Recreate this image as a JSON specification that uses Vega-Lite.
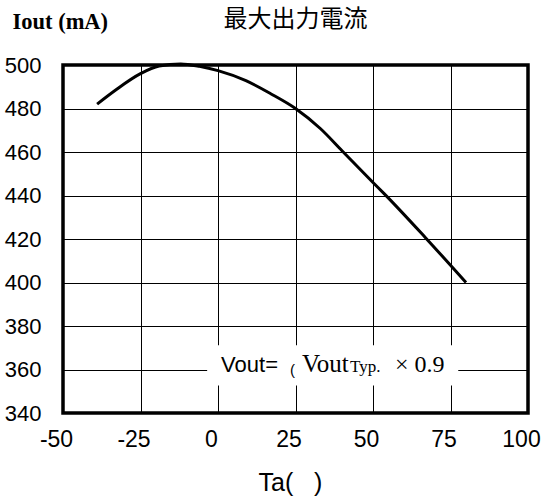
{
  "$schema": "https://vega.github.io/schema/vega-lite/v6.json",
  "width": 465,
  "height": 348,
  "autosize": {"type": "none"},
  "padding": {"left": 63, "top": 65, "right": 13, "bottom": 83},
  "background": "white",
  "config": {
    "view": {"stroke": "black", "strokeWidth": 3.5},
    "axis": {"grid": true, "gridColor": "#000000", "gridWidth": 1, "gridOpacity": 1, "domain": false, "ticks": false, "labelFont": "Liberation Sans", "labelColor": "black"}
  },
  "title": {"text": "最大出力電流", "font": "Noto Sans CJK JP", "fontSize": 24, "fontWeight": "normal", "color": "black", "offset": -22, "anchor": "middle"},
  "data": {"values": [
    {"ta": -39, "iout": 482},
    {"ta": -33, "iout": 488.5},
    {"ta": -25, "iout": 496},
    {"ta": -19, "iout": 499.5},
    {"ta": -12, "iout": 500.5},
    {"ta": -6, "iout": 499.4},
    {"ta": 0, "iout": 497.4},
    {"ta": 9, "iout": 492.8},
    {"ta": 17, "iout": 486.8},
    {"ta": 25, "iout": 480},
    {"ta": 33, "iout": 470.8},
    {"ta": 40, "iout": 460.6},
    {"ta": 50, "iout": 446},
    {"ta": 53.5, "iout": 441},
    {"ta": 67, "iout": 420.5},
    {"ta": 80, "iout": 400}
  ]},
  "layer": [
    {
      "mark": {"type": "line", "color": "black", "strokeWidth": 3, "interpolate": "monotone", "clip": false},
      "encoding": {
        "x": {"field": "ta", "type": "quantitative",
          "scale": {"domain": [-50, 100], "nice": false, "zero": false},
          "axis": {"values": [-50, -25, 0, 25, 50, 75, 100], "labelFontSize": 23, "labelPadding": 15, "labelOffset": -7, "labelFlush": false,
            "labelExpr": "replace(datum.label, '−', '-')",
            "title": "Ta(\u00a0\u00a0\u00a0)", "titleFont": "Liberation Sans", "titleFontSize": 25, "titleFontWeight": "normal", "titleColor": "black",
            "titleX": 227, "titleY": 77, "titleBaseline": "alphabetic", "titleAnchor": null}},
        "y": {"field": "iout", "type": "quantitative",
          "scale": {"domain": [340, 500], "nice": false, "zero": false},
          "axis": {"values": [340, 360, 380, 400, 420, 440, 460, 480, 500], "labelFontSize": 22, "labelPadding": 22,
            "title": "Iout (mA)", "titleFont": "Liberation Serif", "titleFontSize": 22.5, "titleFontWeight": "bold", "titleColor": "black",
            "titleAngle": 0, "titleAlign": "left", "titleBaseline": "alphabetic", "titleX": -51, "titleY": -37}}
      }
    },
    {
      "data": {"values": [{}]},
      "mark": {"type": "rect", "fill": "white"},
      "encoding": {
        "x": {"datum": -3.5, "type": "quantitative"},
        "x2": {"datum": 77.5},
        "y": {"datum": 352.7, "type": "quantitative"},
        "y2": {"datum": 371.1}
      }
    },
    {
      "data": {"values": [{}]},
      "mark": {"type": "text", "align": "left", "baseline": "alphabetic", "font": "Liberation Sans", "fontSize": 22, "fill": "black"},
      "encoding": {"x": {"datum": 1, "type": "quantitative"}, "y": {"datum": 358.85, "type": "quantitative"}, "text": {"value": "Vout="}}
    },
    {
      "data": {"values": [{}]},
      "mark": {"type": "text", "align": "left", "baseline": "alphabetic", "font": "Liberation Sans", "fontSize": 15, "fill": "black"},
      "encoding": {"x": {"datum": 23.2, "type": "quantitative"}, "y": {"datum": 357.6, "type": "quantitative"}, "text": {"value": "("}}
    },
    {
      "data": {"values": [{}]},
      "mark": {"type": "text", "align": "left", "baseline": "alphabetic", "font": "Liberation Serif", "fontSize": 25, "fill": "black"},
      "encoding": {"x": {"datum": 27.1, "type": "quantitative"}, "y": {"datum": 358.85, "type": "quantitative"}, "text": {"value": "Vout"}}
    },
    {
      "data": {"values": [{}]},
      "mark": {"type": "text", "align": "left", "baseline": "alphabetic", "font": "Liberation Serif", "fontSize": 17, "fill": "black"},
      "encoding": {"x": {"datum": 42.6, "type": "quantitative"}, "y": {"datum": 358.85, "type": "quantitative"}, "text": {"value": "Typ."}}
    },
    {
      "data": {"values": [{}]},
      "mark": {"type": "text", "align": "left", "baseline": "alphabetic", "font": "Liberation Serif", "fontSize": 24, "fill": "black"},
      "encoding": {"x": {"datum": 57.1, "type": "quantitative"}, "y": {"datum": 358.85, "type": "quantitative"}, "text": {"value": "× 0.9"}}
    }
  ]
}
